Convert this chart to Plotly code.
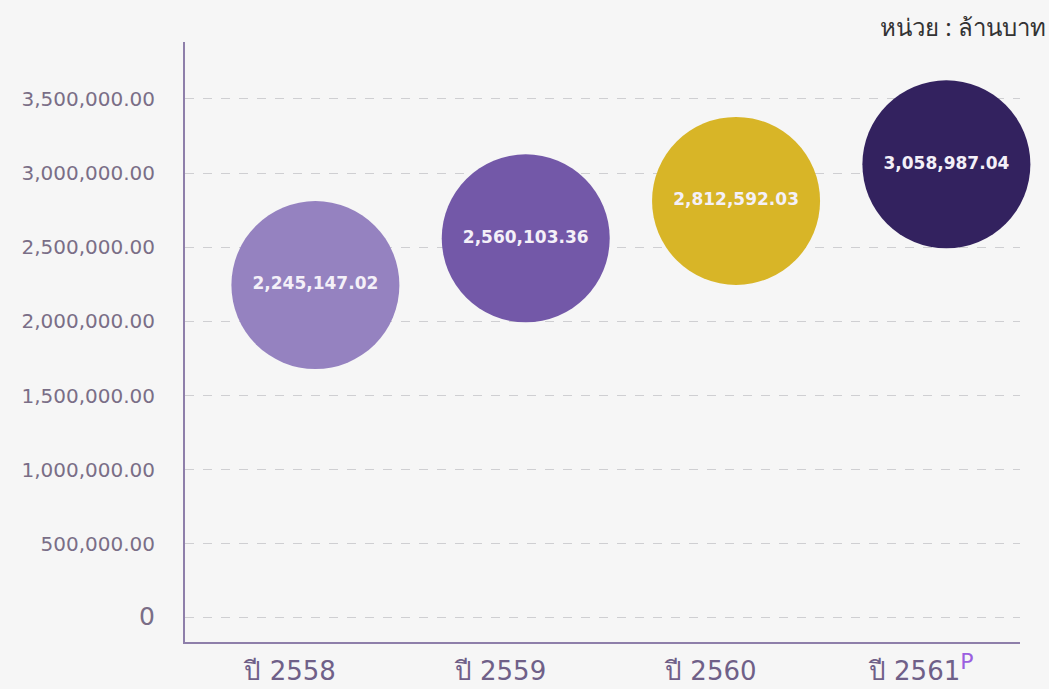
import plotly.graph_objects as go

categories = ["ปี 2558", "ปี 2559", "ปี 2560", "ปี 2561<sup><span style='color:#9B5FE0;font-size:22px'>P</span></sup>"]
values = [2245147.02, 2560103.36, 2812592.03, 3058987.04]
value_labels = ["2,245,147.02", "2,560,103.36", "2,812,592.03", "3,058,987.04"]
colors = ["#9582C0", "#7358A8", "#D8B527", "#33225F"]
y_tickvals = [0, 500000, 1000000, 1500000, 2000000, 2500000, 3000000, 3500000]
y_ticktext = ["<span style='font-size:25px'>0</span>", "500,000.00", "1,000,000.00", "1,500,000.00",
              "2,000,000.00", "2,500,000.00", "3,000,000.00", "3,500,000.00"]
unit_text = "หน่วย : ล้านบาท"

x_idx = list(range(len(categories)))
bubble_shift = 0.12
bubble_x = [i + bubble_shift for i in x_idx]

fig = go.Figure()
fig.add_trace(go.Scatter(
    x=bubble_x, y=values,
    mode="markers+text",
    marker=dict(size=168, color=colors, line=dict(width=0), opacity=1),
    text=["<b>" + t + "</b>" for t in value_labels],
    textposition="middle center",
    textfont=dict(family="DejaVu Sans", size=17, color="#F4F0F8"),
    hoverinfo="skip",
    cliponaxis=False,
    showlegend=False,
))

axis_color = "#8E7FAA"
fig.update_layout(
    width=1049, height=689,
    margin=dict(l=185, r=29, t=42, b=47),
    paper_bgcolor="#F6F6F6",
    plot_bgcolor="#F6F6F6",
    xaxis=dict(
        range=[-0.5, 3.47],
        tickvals=x_idx, ticktext=categories,
        showgrid=False, zeroline=False, automargin=False,
        showline=True, linecolor=axis_color, linewidth=2,
        ticks="outside", ticklen=5, tickcolor="rgba(0,0,0,0)",
        tickfont=dict(family="DejaVu Sans", size=26, color="#6F6088"),
    ),
    yaxis=dict(
        range=[-162000, 3884000],
        tickvals=y_tickvals, ticktext=y_ticktext,
        showgrid=True, gridcolor="#CFCFD2", griddash="dash", gridwidth=1,
        zeroline=False, automargin=False,
        showline=True, linecolor=axis_color, linewidth=2,
        ticks="outside", ticklen=24, tickcolor="rgba(0,0,0,0)",
        tickfont=dict(family="DejaVu Sans", size=20, color="#7A6E87"),
    ),
    annotations=[dict(
        text=unit_text, xref="paper", yref="paper",
        x=1.034, y=1.0, yshift=16, xanchor="right", yanchor="middle",
        showarrow=False,
        font=dict(family="Noto Sans, DejaVu Sans", size=24, color="#333333"),
    )],
)

fig.write_html("out.html")
